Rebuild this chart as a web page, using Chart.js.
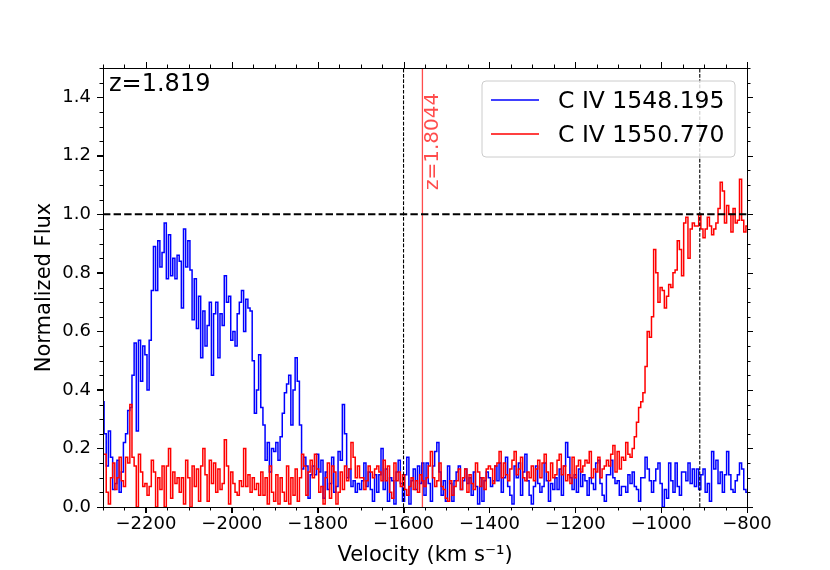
<!DOCTYPE html>
<html>
<head>
<meta charset="utf-8">
<script src="https://cdn.jsdelivr.net/npm/chart.js@4.4.1/dist/chart.umd.min.js"></script>
<style>
html,body{margin:0;padding:0;background:#ffffff;}
#wrap{width:830px;height:570px;position:relative;}
</style>
</head>
<body>
<div id="wrap"><canvas id="c" width="830" height="570"></canvas></div>
<script>
// ---- data ----
const vStart = -2300;          // km/s, first pixel
const vStep = 5;               // km/s per sample
const fluxBlue = [
0.36,0.25,0.14,0.26,0.17,0.06,0.08,0.16,0.05,0.12,
0.22,0.25,0.33,0.34,0.45,0.56,0.26,0.57,0.43,0.55,
0.52,0.40,0.57,0.74,0.89,0.74,0.91,0.82,0.87,0.97,
0.78,0.93,0.79,0.85,0.78,0.86,0.84,0.68,0.95,0.82,
0.91,0.81,0.64,0.78,0.61,0.72,0.51,0.67,0.55,0.62,
0.70,0.45,0.66,0.70,0.51,0.66,0.62,0.79,0.70,0.72,
0.57,0.60,0.55,0.66,0.70,0.74,0.60,0.71,0.68,0.67,
0.50,0.32,0.40,0.52,0.34,0.28,0.16,0.22,0.12,0.20,
0.19,0.22,0.16,0.24,0.32,0.39,0.42,0.45,0.28,0.40,
0.51,0.43,0.28,0.13,0.17,0.14,0.03,0.11,0.14,0.11,
0.18,0.12,0.16,0.03,0.12,0.06,0.08,0.17,0.05,0.07,
0.19,0.16,0.35,0.25,0.10,0.13,0.07,0.09,0.05,0.08,
0.06,0.09,0.15,0.07,0.12,0.06,0.02,0.11,0.05,0.11,
0.20,0.06,0.13,0.02,0.10,0.09,0.01,0.12,0.16,0.08,
0.02,0.11,0.17,0.01,0.09,0.13,0.06,0.14,0.08,0.15,
0.04,0.15,0.08,0.02,0.14,0.19,0.22,0.12,0.04,0.09,
0.02,0.14,0.08,0.02,0.09,0.12,0.14,0.06,0.09,0.13,
0.08,0.10,0.04,0.12,0.07,0.01,0.10,0.02,0.09,0.12,
0.10,0.07,0.09,0.14,0.09,0.15,0.05,0.10,0.17,0.07,
0.04,0.01,0.14,0.10,0.15,0.04,0.12,0.18,0.09,0.04,
0.01,0.07,0.14,0.08,0.05,0.07,0.15,0.09,0.02,0.08,
0.06,0.10,0.06,0.13,0.04,0.14,0.22,0.17,0.10,0.06,
0.11,0.05,0.13,0.07,0.11,0.09,0.04,0.10,0.08,0.06,
0.15,0.16,0.08,0.04,0.02,0.11,0.11,0.16,0.10,0.08,
0.09,0.04,0.07,0.07,0.05,0.11,0.08,0.12,0.07,0.06,
0.02,0.10,0.10,0.17,0.13,0.09,0.05,0.09,0.13,0.15,
0.08,0.00,0.06,0.03,0.15,0.09,0.05,0.15,0.07,0.04,
0.12,0.12,0.09,0.15,0.08,0.13,0.07,0.13,0.06,0.11,
0.13,0.05,0.08,0.02,0.19,0.13,0.16,0.08,0.12,0.05,
0.11,0.19,0.11,0.06,0.05,0.09,0.11,0.15,0.13,0.06,
0.05
];
const fluxRed = [
0.18,0.18,0.05,0.01,0.10,0.15,0.06,0.10,0.17,0.09,
0.07,0.17,0.15,0.35,0.17,0.14,0.00,0.18,0.12,0.07,
0.08,0.04,0.07,0.16,0.12,0.00,0.10,0.06,0.14,0.00,
0.14,0.20,0.03,0.12,0.08,0.10,0.05,0.10,0.01,0.16,
0.10,0.00,0.14,0.07,0.13,0.02,0.14,0.20,0.11,0.02,
0.16,0.08,0.15,0.05,0.13,0.06,0.08,0.23,0.14,0.01,
0.12,0.08,0.05,0.04,0.09,0.07,0.20,0.07,0.11,0.05,
0.10,0.06,0.08,0.04,0.12,0.04,0.10,0.01,0.14,0.05,
0.02,0.11,0.01,0.10,0.05,0.02,0.14,0.01,0.10,0.04,
0.13,0.02,0.10,0.18,0.14,0.04,0.12,0.16,0.10,0.18,
0.13,0.05,0.07,0.01,0.10,0.15,0.03,0.14,0.12,0.01,
0.05,0.12,0.06,0.14,0.09,0.13,0.22,0.17,0.10,0.14,
0.10,0.10,0.06,0.09,0.14,0.12,0.10,0.13,0.14,0.12,
0.09,0.16,0.09,0.14,0.05,0.03,0.15,0.09,0.12,0.07,
0.11,0.06,0.04,0.07,0.10,0.06,0.09,0.05,0.11,0.09,
0.07,0.10,0.14,0.19,0.10,0.07,0.09,0.15,0.07,0.06,
0.03,0.02,0.09,0.04,0.07,0.09,0.13,0.06,0.10,0.13,
0.05,0.11,0.08,0.06,0.15,0.12,0.07,0.10,0.06,0.13,
0.14,0.13,0.08,0.14,0.15,0.19,0.10,0.15,0.11,0.09,
0.13,0.16,0.19,0.11,0.13,0.17,0.10,0.09,0.12,0.10,
0.14,0.09,0.13,0.16,0.10,0.15,0.18,0.12,0.09,0.15,
0.10,0.11,0.16,0.18,0.11,0.14,0.09,0.11,0.08,0.17,
0.10,0.14,0.16,0.12,0.14,0.16,0.15,0.19,0.10,0.13,
0.12,0.17,0.10,0.13,0.14,0.16,0.14,0.18,0.21,0.12,
0.19,0.13,0.17,0.16,0.22,0.18,0.17,0.20,0.24,0.29,
0.34,0.36,0.39,0.48,0.60,0.58,0.65,0.88,0.80,0.70,
0.75,0.74,0.68,0.72,0.76,0.75,0.80,0.81,0.91,0.88,
0.79,0.97,0.99,0.85,0.95,0.97,0.96,0.96,1.00,0.95,
0.92,0.95,0.99,0.96,0.93,0.95,0.97,1.02,1.11,1.08,
0.97,1.03,1.00,0.94,1.02,0.97,0.98,1.12,0.98,0.94,
0.96
];
const seriesLabels = ['C IV 1548.195', 'C IV 1550.770'];
const seriesColors = ['#0000ff', '#ff0000'];
const xRange = [-2300, -800];
const yRange = [0, 1.5];
const xMajor = 200, xMinor = 50;
const yMajor = 0.2, yMinor = 0.05;
const continuumLevel = 1.0;
const dottedLinesV = [-1600, -910];
const systemV = -1556;
const systemText = 'z=1.8044';
const systemTextY = 1.083;
const redshiftText = 'z=1.819';
const xTitle = 'Velocity (km s\u207B\u00B9)';
const yTitle = 'Normalized Flux';

// ---- build ----
const FONT = 'DejaVu Sans';
Chart.defaults.font.family = FONT;
Chart.defaults.color = '#000';

function toPoints(arr){ return arr.map((f,i)=>({x: vStart + i*vStep, y: f})); }
const lineStyle = {pointRadius:0, borderJoinStyle:'miter', fill:false, clip:0};

const datasets = [
  Object.assign({label:'continuum', data:[{x:xRange[0],y:continuumLevel},{x:xRange[1],y:continuumLevel}],
    borderColor:'#000', borderWidth:2, borderDash:[7.4,3.2], order:0}, lineStyle),
  Object.assign({label:'sys', data:[{x:systemV,y:yRange[0]},{x:systemV,y:yRange[1]}],
    borderColor:'rgba(255,0,0,0.7)', borderWidth:1.3, order:0}, lineStyle),
  ...dottedLinesV.map(v => Object.assign({label:'mark', data:[{x:v,y:yRange[0]},{x:v,y:yRange[1]}],
    borderColor:'#000', borderWidth:1.1, borderDash:[3.7,1.6], order:0}, lineStyle)),
  Object.assign({label:seriesLabels[1], data:toPoints(fluxRed), borderColor:seriesColors[1],
    borderWidth:1.5, stepped:'middle', order:1}, lineStyle),
  Object.assign({label:seriesLabels[0], data:toPoints(fluxBlue), borderColor:seriesColors[0],
    borderWidth:1.5, stepped:'middle', order:2}, lineStyle)
];

function isMult(v, step){ const r = v/step; return Math.abs(r - Math.round(r)) < 1e-6; }
function majorTicks(range, step){
  const out = [];
  const k0 = Math.ceil(range[0]/step - 1e-9), k1 = Math.floor(range[1]/step + 1e-9);
  for (let k=k0;k<=k1;k++) out.push({value: Math.round(k*step*1e6)/1e6});
  return out;
}

const frameTicks = {
  id:'frameTicks',
  afterDraw(chart){
    const {ctx, chartArea, scales} = chart;
    const {left, right, top, bottom} = chartArea;
    const xs = scales.x, ys = scales.y;
    ctx.save();
    ctx.strokeStyle = '#000';
    ctx.lineWidth = 1;
    ctx.beginPath();
    const nX = Math.round((xRange[1]-xRange[0])/xMinor);
    for (let k=0;k<=nX;k++){
      const v = xRange[0] + k*xMinor;
      const p = Math.round(xs.getPixelForValue(v)) + 0.5;
      const len = isMult(v, xMajor) ? 6 : 3.5;
      ctx.moveTo(p, bottom); ctx.lineTo(p, bottom+len);
      ctx.moveTo(p, top); ctx.lineTo(p, top-len);
    }
    const nY = Math.round((yRange[1]-yRange[0])/yMinor);
    for (let k=0;k<=nY;k++){
      const v = yRange[0] + k*yMinor;
      const p = Math.round(ys.getPixelForValue(v)) + 0.5;
      const len = isMult(v, yMajor) ? 6 : 3.5;
      ctx.moveTo(left, p); ctx.lineTo(left-len, p);
      ctx.moveTo(right, p); ctx.lineTo(right+len, p);
    }
    ctx.stroke();
    ctx.strokeRect(Math.round(left)+0.5, Math.round(top)+0.5, Math.round(right-left), Math.round(bottom-top));

    // annotations
    ctx.fillStyle = '#000';
    ctx.font = '24px "' + FONT + '"';
    ctx.textAlign = 'left'; ctx.textBaseline = 'alphabetic';
    ctx.fillText(redshiftText, left + 6, top + 22.7);

    ctx.save();
    ctx.fillStyle = 'rgba(255,0,0,0.7)';
    ctx.font = '20px "' + FONT + '"';
    ctx.translate(xs.getPixelForValue(systemV) + 15.3, ys.getPixelForValue(systemTextY));
    ctx.rotate(-Math.PI/2);
    ctx.fillText(systemText, 0, 0);
    ctx.restore();

    // legend
    const bx = 482, by = 81, bw = 253, bh = 76, r = 4;
    ctx.beginPath();
    ctx.moveTo(bx+r, by); ctx.lineTo(bx+bw-r, by); ctx.quadraticCurveTo(bx+bw, by, bx+bw, by+r);
    ctx.lineTo(bx+bw, by+bh-r); ctx.quadraticCurveTo(bx+bw, by+bh, bx+bw-r, by+bh);
    ctx.lineTo(bx+r, by+bh); ctx.quadraticCurveTo(bx, by+bh, bx, by+bh-r);
    ctx.lineTo(bx, by+r); ctx.quadraticCurveTo(bx, by, bx+r, by);
    ctx.closePath();
    ctx.fillStyle = 'rgba(255,255,255,0.8)';
    ctx.fill();
    ctx.strokeStyle = '#cccccc';
    ctx.lineWidth = 1;
    ctx.stroke();
    ctx.font = '23.5px "' + FONT + '"';
    const rows = [100, 134];
    for (let i=0;i<2;i++){
      ctx.strokeStyle = seriesColors[i];
      ctx.lineWidth = 1.4;
      ctx.beginPath(); ctx.moveTo(491, rows[i]); ctx.lineTo(539, rows[i]); ctx.stroke();
      ctx.fillStyle = '#000';
      ctx.fillText(seriesLabels[i], 558, rows[i] + 8.4);
    }
    ctx.restore();
  }
};

new Chart(document.getElementById('c'), {
  type:'line',
  data:{datasets},
  options:{
    responsive:false,
    animation:false,
    devicePixelRatio:1,
    parsing:true,
    layout:{padding:{left:0, top:68, right:83, bottom:0}},
    plugins:{legend:{display:false}, tooltip:{enabled:false}},
    scales:{
      x:{
        type:'linear', position:'bottom', min:xRange[0], max:xRange[1],
        afterFit:(s)=>{ s.height = 63; },
        afterBuildTicks:(s)=>{ s.ticks = majorTicks(xRange, xMajor); },
        ticks:{stepSize:xMajor, padding:1, color:'#000', font:{family:FONT, size:18},
          maxRotation:0, autoSkip:false,
          callback:(v)=> v < 0 ? '\u2212' + Math.abs(v) : String(v)},
        grid:{display:true, drawOnChartArea:false, drawTicks:true, tickLength:6, color:'#000', lineWidth:1},
        border:{display:true, color:'#000', width:1},
        title:{display:true, text:xTitle, color:'#000', font:{family:FONT, size:21}, padding:{top:0,bottom:2}}
      },
      y:{
        type:'linear', position:'left', min:yRange[0], max:yRange[1],
        afterFit:(s)=>{ s.width = 103; },
        afterBuildTicks:(s)=>{ s.ticks = majorTicks([yRange[0], 1.4], yMajor); },
        ticks:{stepSize:yMajor, padding:6, color:'#000', font:{family:FONT, size:18},
          autoSkip:false, callback:(v)=> Number(v).toFixed(1)},
        grid:{display:true, drawOnChartArea:false, drawTicks:true, tickLength:6, color:'#000', lineWidth:1},
        border:{display:true, color:'#000', width:1},
        title:{display:true, text:yTitle, color:'#000', font:{family:FONT, size:21}, padding:{top:32,bottom:0}}
      }
    }
  },
  plugins:[frameTicks]
});
</script>
</body>
</html>
